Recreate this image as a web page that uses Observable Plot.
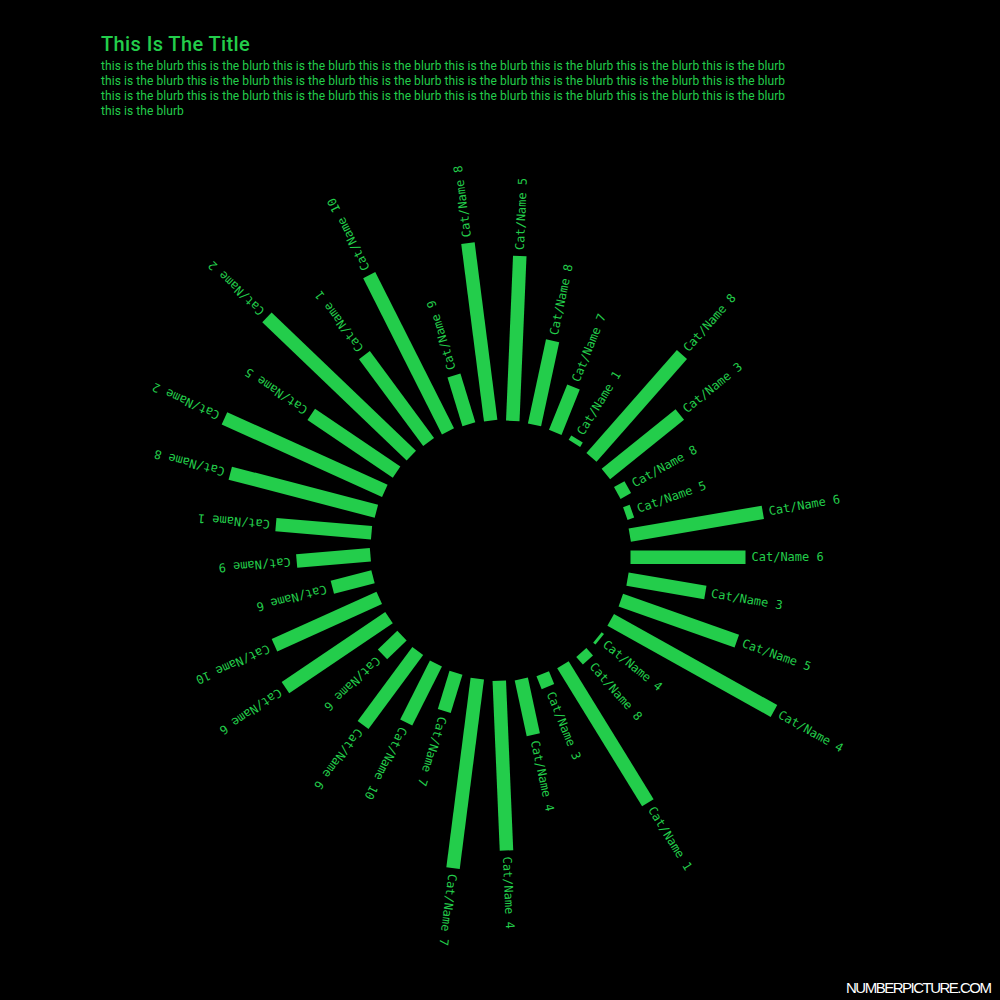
<!DOCTYPE html>
<html>
<head>
<meta charset="utf-8">
<script src="https://cdn.jsdelivr.net/npm/d3@7"></script>
<script src="https://cdn.jsdelivr.net/npm/@observablehq/plot@0.6"></script>
<style>
  html, body { margin: 0; padding: 0; background: #000; }
  #page { position: relative; width: 1000px; height: 1000px; background: #000; overflow: hidden; }
  #chart { position: absolute; left: 0; top: 0; }
  #title { position: absolute; left: 101px; top: 34px; font-family: Roboto, sans-serif; font-size: 20px; line-height: 20px; font-weight: 500; letter-spacing: 0.4px; color: rgb(35,205,75); white-space: nowrap; }
  #blurb { position: absolute; left: 101px; top: 59px; font-family: Roboto, sans-serif; font-size: 12px; line-height: 15px; letter-spacing: 0.07px; color: rgb(35,205,75); white-space: nowrap; }
  #credit { position: absolute; left: 846px; top: 978px; font-family: "Liberation Sans", sans-serif; font-size: 15px; line-height: 20px; letter-spacing: -1.5px; color: #fff; white-space: nowrap; }
</style>
</head>
<body>
<div id="page">
  <div id="chart"></div>
  <div id="title"></div>
  <div id="blurb"></div>
  <div id="credit"></div>
</div>
<script>
// ---- data (clockwise, starting at 3 o'clock) ----
const names = [
  "Cat/Name 6", "Cat/Name 3", "Cat/Name 5", "Cat/Name 4", "Cat/Name 4", "Cat/Name 8",
  "Cat/Name 1", "Cat/Name 3", "Cat/Name 4", "Cat/Name 4", "Cat/Name 7", "Cat/Name 7",
  "Cat/Name 10", "Cat/Name 6", "Cat/Name 6", "Cat/Name 6", "Cat/Name 10", "Cat/Name 6",
  "Cat/Name 9", "Cat/Name 1", "Cat/Name 8", "Cat/Name 2", "Cat/Name 5", "Cat/Name 2",
  "Cat/Name 1", "Cat/Name 10", "Cat/Name 9", "Cat/Name 8", "Cat/Name 5", "Cat/Name 8",
  "Cat/Name 7", "Cat/Name 1", "Cat/Name 8", "Cat/Name 3", "Cat/Name 8", "Cat/Name 5",
  "Cat/Name 6"
];
const values = [
  57.5, 39.5, 61.5, 93.5, 1.5, 5,
  81, 7, 28.5, 85, 95.5, 20,
  33, 46, 13.5, 62.5, 57.5, 21,
  37, 48, 75.5, 88, 51.5, 100,
  54, 87.5, 25.5, 89.5, 82.5, 43,
  24.5, 2.5, 68.5, 47.5, 6, 3.5,
  67.5
];
const titleText = "This Is The Title";
const blurbUnit = "this is the blurb";
const blurbLines = [8, 8, 8, 1];
const creditText = "NUMBERPICTURE.COM";

// ---- layout / style ----
const GREEN = "rgb(35,205,75)";
const CX = 500, CY = 550;
const innerRadius = 130, outerRadius = 330;
const barWidth = 13.5, labelGap = 6;

const data = names.map((name, i) => ({i, name, value: values[i]}));
const angle = d3.scaleBand().domain(d3.range(values.length)).range([0, 2 * Math.PI]);
const radius = d3.scaleLinear().domain([0, 100]).range([innerRadius, outerRadius]);

// point at radius r along the bar's ray, shifted 'off' px clockwise (bars sit beside their ray)
function pt(d, r, off) {
  const a = angle(d.i);
  return [r * Math.cos(a) - off * Math.sin(a), r * Math.sin(a) + off * Math.cos(a)];
}

const chart = Plot.plot({
  width: 1000,
  height: 1000,
  margin: 0,
  x: {domain: [-CX, 1000 - CX], axis: null},
  y: {domain: [-CY, 1000 - CY], range: [0, 1000], axis: null},
  style: {background: "transparent", color: GREEN},
  marks: [
    Plot.link(data, {
      x1: d => pt(d, innerRadius, barWidth / 2)[0],
      y1: d => pt(d, innerRadius, barWidth / 2)[1],
      x2: d => pt(d, radius(d.value), barWidth / 2)[0],
      y2: d => pt(d, radius(d.value), barWidth / 2)[1],
      stroke: GREEN,
      strokeWidth: barWidth,
      strokeLinecap: "butt"
    }),
    Plot.text(data, {
      x: d => pt(d, radius(d.value) + labelGap, barWidth / 2)[0],
      y: d => pt(d, radius(d.value) + labelGap, barWidth / 2)[1],
      text: "name",
      rotate: d => angle(d.i) * 180 / Math.PI,
      textAnchor: "start",
      lineAnchor: "middle",
      fill: GREEN,
      fontSize: 12,
      fontFamily: "DejaVu Sans Mono"
    })
  ]
});
document.getElementById("chart").appendChild(chart);

document.getElementById("title").textContent = titleText;
document.getElementById("blurb").innerHTML = blurbLines
  .map(n => Array(n).fill(blurbUnit).join(" "))
  .join("<br>");
document.getElementById("credit").textContent = creditText;
</script>
</body>
</html>
